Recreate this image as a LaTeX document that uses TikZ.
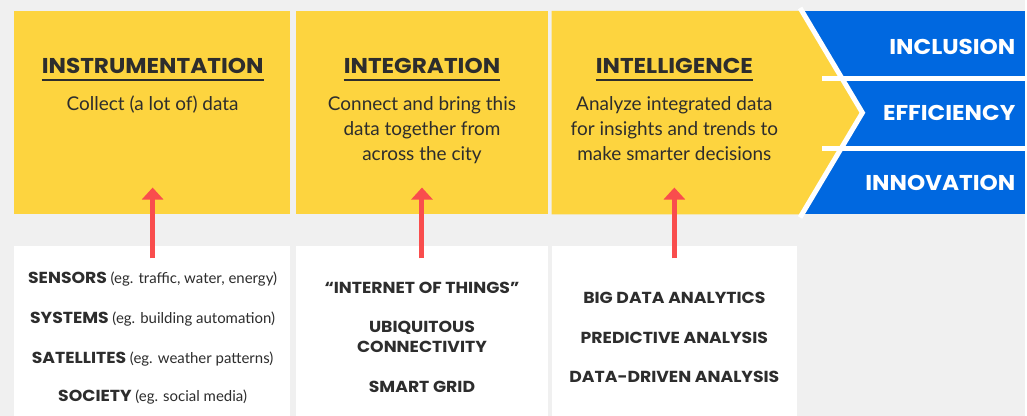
\documentclass[tikz,border=0pt]{standalone}
\usepackage{fontspec}
\setmainfont{Lato}
\newfontfamily\headfont{Poppins}[FakeStretch=1.08]
\usepackage{xcolor}
\usetikzlibrary{arrows.meta,positioning,calc}

\definecolor{pagegray}{HTML}{F0F0F0}
\definecolor{cityyellow}{HTML}{FDD43F}
\definecolor{cityblue}{HTML}{0068E0}
\definecolor{inkdark}{HTML}{2D2D2D}
\definecolor{feedred}{HTML}{F94D4D}

\newcommand{\egnote}[1]{{\normalfont\fontsize{15}{18}\selectfont #1}}

\begin{document}
\begin{tikzpicture}[x=1pt,y=-1pt,
    title/.style={anchor=base, inner sep=0pt, text=inkdark, font=\headfont\bfseries\fontsize{21.5}{26}\selectfont},
    body/.style={anchor=base, inner sep=0pt, text=inkdark, font=\fontsize{19}{25}\selectfont},
    goal/.style={anchor=base east, inner sep=0pt, text=white, font=\headfont\bfseries\fontsize{21.5}{24}\selectfont},
    item/.style={anchor=base, inner sep=0pt, text=inkdark, font=\headfont\bfseries\fontsize{16}{19}\selectfont},
    feed/.style={draw=feedred, line width=5pt, -{Triangle[width=21pt,length=12pt]}}]
    \fill[pagegray] (0,0) rectangle (1027,417);

    % Yellow stages
    \fill[cityyellow] (14,11) rectangle (291,215);
    \fill[cityyellow] (297,11) rectangle (549,215);
    \fill[cityblue] (800,11) rectangle (1027,215);
    \fill[cityyellow] (553,11) -- (802,11) -- (862,113) -- (802,215) -- (553,215) -- cycle;
    \draw[white, line width=5pt] (802,8) -- (864.5,113) -- (802,218);
    \draw[white, line width=5pt] (824,78.5) -- (1027,78.5);
    \draw[white, line width=5pt] (824,148.5) -- (1027,148.5);

    % White sources
    \fill[white] (14,247) rectangle (291,417);
    \fill[white] (297,247) rectangle (549,417);
    \fill[white] (553,247) rectangle (799,417);

    % Titles
    \node[title] (ins) at (153,74) {INSTRUMENTATION};
    \node[title] (int) at (423,74) {INTEGRATION};
    \node[title] (itl) at (676,74) {INTELLIGENCE};
    \foreach \t in {ins,int,itl} {
        \draw[inkdark, line width=2pt] ($(\t.base west)+(0,6)$) -- ($(\t.base east)+(0,6)$);
    }

    \node[body] (ins1) at (153,111) {Collect (a lot of) data};
    \node[body] (int1) at (423,111) {Connect and bring this};
    \node[body] (int2) at (423,136) {data together from};
    \node[body] (int3) at (423,161) {across the city};
    \node[body] (itl1) at (676,111) {Analyze integrated data};
    \node[body] (itl2) at (676,136) {for insights and trends to};
    \node[body] (itl3) at (676,161) {make smarter decisions};

    % Outcomes
    \node[goal] (inc) at (1018,55) {INCLUSION};
    \node[goal] (eff) at (1018,121) {EFFICIENCY};
    \node[goal] (inn) at (1018,191) {INNOVATION};

    % Sources text
    \node[item] (sen) at (153,284) {SENSORS \egnote{(eg. traffic, water, energy)}};
    \node[item] (sys) at (153,324) {SYSTEMS \egnote{(eg. building automation)}};
    \node[item] (sat) at (153,364) {SATELLITES \egnote{(eg. weather patterns)}};
    \node[item] (soc) at (153,402) {SOCIETY \egnote{(eg. social media)}};

    \node[item] (iot) at (423,294) {“INTERNET OF THINGS”};
    \node[item] (ubq) at (423,333) {UBIQUITOUS};
    \node[item] (con) at (423,353) {CONNECTIVITY};
    \node[item] (grd) at (423,393) {SMART GRID};

    \node[item] (bda) at (676,304) {BIG DATA ANALYTICS};
    \node[item] (pra) at (676,344) {PREDICTIVE ANALYSIS};
    \node[item] (dda) at (676,383) {DATA-DRIVEN ANALYSIS};

    % Arrows
    \coordinate (ins-from) at (153,259);
    \coordinate (ins-to) at (153,188);
    \coordinate (int-from) at (423,259);
    \coordinate (int-to) at (423,188);
    \coordinate (itl-from) at (676,259);
    \coordinate (itl-to) at (676,188);
    \draw[feed] (ins-from) -- (ins-to);
    \draw[feed] (int-from) -- (int-to);
    \draw[feed] (itl-from) -- (itl-to);
\end{tikzpicture}
\end{document}
